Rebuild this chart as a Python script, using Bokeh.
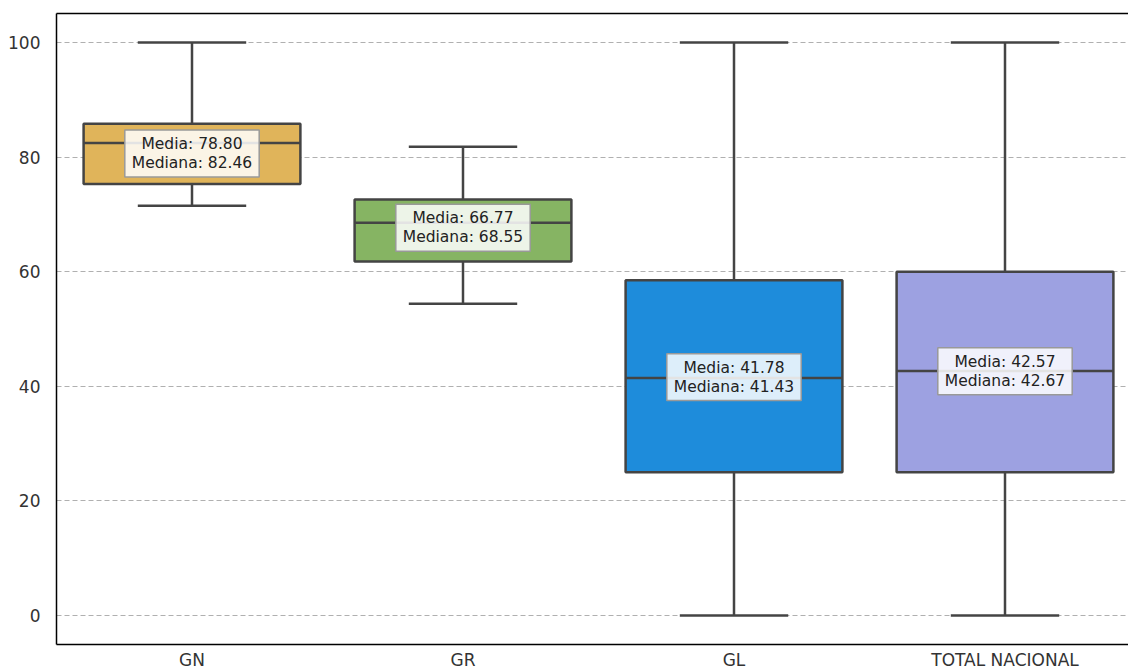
from bokeh.plotting import figure
from bokeh.models import Range1d, FixedTicker, Label, LinearAxis
from bokeh.embed import file_html
from bokeh.resources import INLINE

categories = ["GN", "GR", "GL", "TOTAL NACIONAL"]
whisker_low = [71.5, 54.4, 0.0, 0.0]
q1 = [75.3, 61.8, 25.0, 25.0]
median = [82.46, 68.55, 41.43, 42.67]
q3 = [85.8, 72.6, 58.5, 60.0]
whisker_high = [100.0, 81.8, 100.0, 100.0]
mean = [78.80, 66.77, 41.78, 42.57]
colors = ["#e0b45a", "#86b463", "#1e8cdb", "#9da1e1"]

FONT = "DejaVu Sans"
EDGE = "#444444"

xs = list(range(len(categories)))

p = figure(width=1128, height=672, output_backend="svg", toolbar_location=None,
           x_range=Range1d(-0.5, -0.5 + 1072 / 271), y_range=Range1d(-5.06, 105.06),
           min_border_left=56, min_border_right=0, min_border_top=13, min_border_bottom=28)

p.outline_line_color = None
p.background_fill_color = "white"
p.border_fill_color = "white"

p.xgrid.grid_line_color = None
p.ygrid.grid_line_color = "#b0b0b0"
p.ygrid.grid_line_dash = "5 3"
p.ygrid.grid_line_width = 1

xaxis = p.below[0]
yaxis = p.left[0]
yaxis.ticker = FixedTicker(ticks=[0, 20, 40, 60, 80, 100])
xaxis.ticker = FixedTicker(ticks=xs)
xaxis.major_label_overrides = {i: c for i, c in enumerate(categories)}
for ax in (xaxis, yaxis):
    ax.axis_line_color = "black"
    ax.axis_line_width = 1.5
    ax.major_tick_line_color = None
    ax.minor_tick_line_color = None
    ax.major_tick_out = 0
    ax.major_tick_in = 0
    ax.minor_tick_out = 0
    ax.minor_tick_in = 0
    ax.major_label_text_font = FONT
    ax.major_label_text_font_size = "17px"
    ax.major_label_text_color = "#333333"
yaxis.major_label_standoff = 16
xaxis.major_label_standoff = 5

# top frame line as an unlabeled axis
top = LinearAxis(ticker=FixedTicker(ticks=[]), major_label_text_font_size="0px",
                 major_tick_out=0, major_tick_in=0, minor_tick_out=0, minor_tick_in=0,
                 major_label_standoff=0,
                 axis_line_color="black", axis_line_width=1.5)
p.add_layout(top, "above")

# whiskers
p.segment(x0=xs, y0=q3, x1=xs, y1=whisker_high, line_color=EDGE, line_width=2.5)
p.segment(x0=xs, y0=whisker_low, x1=xs, y1=q1, line_color=EDGE, line_width=2.5)
# caps
p.segment(x0=[x - 0.2 for x in xs], y0=whisker_high, x1=[x + 0.2 for x in xs], y1=whisker_high,
          line_color=EDGE, line_width=2.5)
p.segment(x0=[x - 0.2 for x in xs], y0=whisker_low, x1=[x + 0.2 for x in xs], y1=whisker_low,
          line_color=EDGE, line_width=2.5)
# boxes
p.vbar(x=xs, width=0.8, top=q3, bottom=q1, fill_color=colors, line_color=EDGE, line_width=2.5)
# medians
p.segment(x0=[x - 0.4 for x in xs], y0=median, x1=[x + 0.4 for x in xs], y1=median,
          line_color=EDGE, line_width=2.5)

for i in xs:
    lab = Label(x=i, y=(mean[i] + median[i]) / 2,
                text=f"Media: {mean[i]:.2f}\nMediana: {median[i]:.2f}",
                text_align="center", text_baseline="middle",
                text_font=FONT, text_font_size="15.5px", text_color="#222222",
                text_line_height=1.05,
                background_fill_color="white", background_fill_alpha=0.85,
                border_line_color="#999999", border_line_width=1.5,
                padding=dict(left=7, right=7, top=5, bottom=5))
    p.add_layout(lab)

open("out.html", "w").write(file_html(p, INLINE))
